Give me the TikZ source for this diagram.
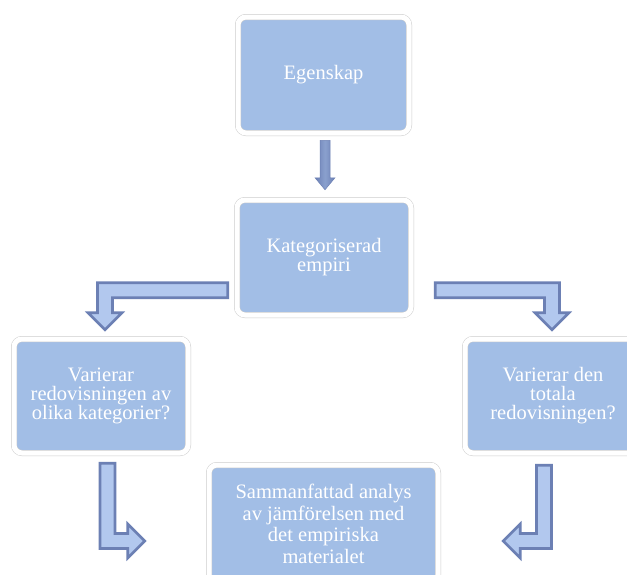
\documentclass[tikz,border=0pt]{standalone}
\usepackage{fontspec}
\setmainfont{Liberation Serif}
\usetikzlibrary{calc}
\definecolor{boxblue}{RGB}{162,190,230}
\definecolor{arrowdark}{RGB}{108,128,180}
\definecolor{arrowlight}{RGB}{178,200,238}
\definecolor{arrowmid}{RGB}{138,160,206}
\definecolor{rimgray}{RGB}{205,205,205}
\begin{document}
\begin{tikzpicture}[x=1pt,y=-1pt,
  box/.style={rounded corners=8pt, fill=boxblue, draw=rimgray, line width=0.5pt,
    double=white, double distance=5pt, text=white, align=center, inner sep=0pt,
    font=\fontsize{20.5}{19}\selectfont},
  bentarrow/.style={fill=arrowlight, draw=arrowdark, line width=2.6pt, line join=miter},
  downarrow/.style={left color=arrowdark, right color=arrowdark, middle color=arrowmid,
    draw=arrowdark, line width=0.5pt}]
\useasboundingbox (0,0) rectangle (627,574);
\fill[white] (0,0) rectangle (627,574);
\clip (0,0) rectangle (627,574);

\node[box, minimum width=171pt, minimum height=116pt] (egen) at (323.5,75) {Egenskap};
\node[box, minimum width=174pt, minimum height=115pt] (kat) at (324,257.5) {Kategoriserad\\empiri};
\node[box, minimum width=174pt, minimum height=114pt] (lbox) at (101,396) {Varierar\\redovisningen av\\olika kategorier?};
\node[box, minimum width=176pt, minimum height=114pt] (rbox) at (553,396) {Varierar den\\totala\\redovisningen?};
\node[box, minimum width=229pt, minimum height=118pt, font=\fontsize{20.5}{21.5}\selectfont] (sum) at (323.5,524) {Sammanfattad analys\\av jämförelsen med\\det empiriska\\materialet};

% down arrow
\coordinate (d1) at ($(egen.south)+(1.5,7)$);
\coordinate (d2) at ($(kat.north)+(1,-10)$);
\path[downarrow] ($(d1)+(-5,0)$) -- ($(d2)+(-5,-12)$) -- ($(d2)+(-10,-12)$) -- (d2)
  -- ($(d2)+(10,-12)$) -- ($(d2)+(5,-12)$) -- ($(d1)+(5,0)$) -- cycle;

% left bent arrow
\coordinate (la) at ($(kat.south west)+(-9,-25)$);
\coordinate (lb) at ($(lbox.north)+(4,-9)$);
\coordinate (lc) at (lb|-la);
\path[bentarrow] ($(la)+(0,-7.5)$) -- ($(lc)+(-7.5,-7.5)$) -- ($(lb)+(-7.5,-17)$)
  -- ($(lb)+(-17,-17)$) -- (lb) -- ($(lb)+(17,-17)$) -- ($(lb)+(7.5,-17)$)
  -- ($(lc)+(7.5,7.5)$) -- ($(la)+(0,7.5)$) -- cycle;

% right bent arrow
\coordinate (ra) at ($(kat.south east)+(24,-25)$);
\coordinate (rb) at ($(rbox.north)+(-1,-9)$);
\coordinate (rc) at (rb|-ra);
\path[bentarrow] ($(ra)+(0,-7.5)$) -- ($(rc)+(7.5,-7.5)$) -- ($(rb)+(7.5,-17)$)
  -- ($(rb)+(17,-17)$) -- (rb) -- ($(rb)+(-17,-17)$) -- ($(rb)+(-7.5,-17)$)
  -- ($(rc)+(-7.5,7.5)$) -- ($(ra)+(0,7.5)$) -- cycle;

% bottom-left bent arrow
\coordinate (ba) at ($(lbox.south)+(6.5,10)$);
\coordinate (bb) at ($(sum.west)+(-64,17)$);
\coordinate (bc) at (ba|-bb);
\path[bentarrow] ($(ba)+(-7.5,0)$) -- ($(bc)+(-7.5,7.5)$) -- ($(bb)+(-17,7.5)$)
  -- ($(bb)+(-17,17)$) -- (bb) -- ($(bb)+(-17,-17)$) -- ($(bb)+(-17,-7.5)$)
  -- ($(bc)+(7.5,-7.5)$) -- ($(ba)+(7.5,0)$) -- cycle;

% bottom-right bent arrow
\coordinate (ca) at ($(rbox.south)+(-9,12)$);
\coordinate (cb) at ($(sum.east)+(65,17)$);
\coordinate (cc) at (ca|-cb);
\path[bentarrow] ($(ca)+(7.5,0)$) -- ($(cc)+(7.5,7.5)$) -- ($(cb)+(17,7.5)$)
  -- ($(cb)+(17,17)$) -- (cb) -- ($(cb)+(17,-17)$) -- ($(cb)+(17,-7.5)$)
  -- ($(cc)+(-7.5,-7.5)$) -- ($(ca)+(-7.5,0)$) -- cycle;
\end{tikzpicture}
\end{document}
